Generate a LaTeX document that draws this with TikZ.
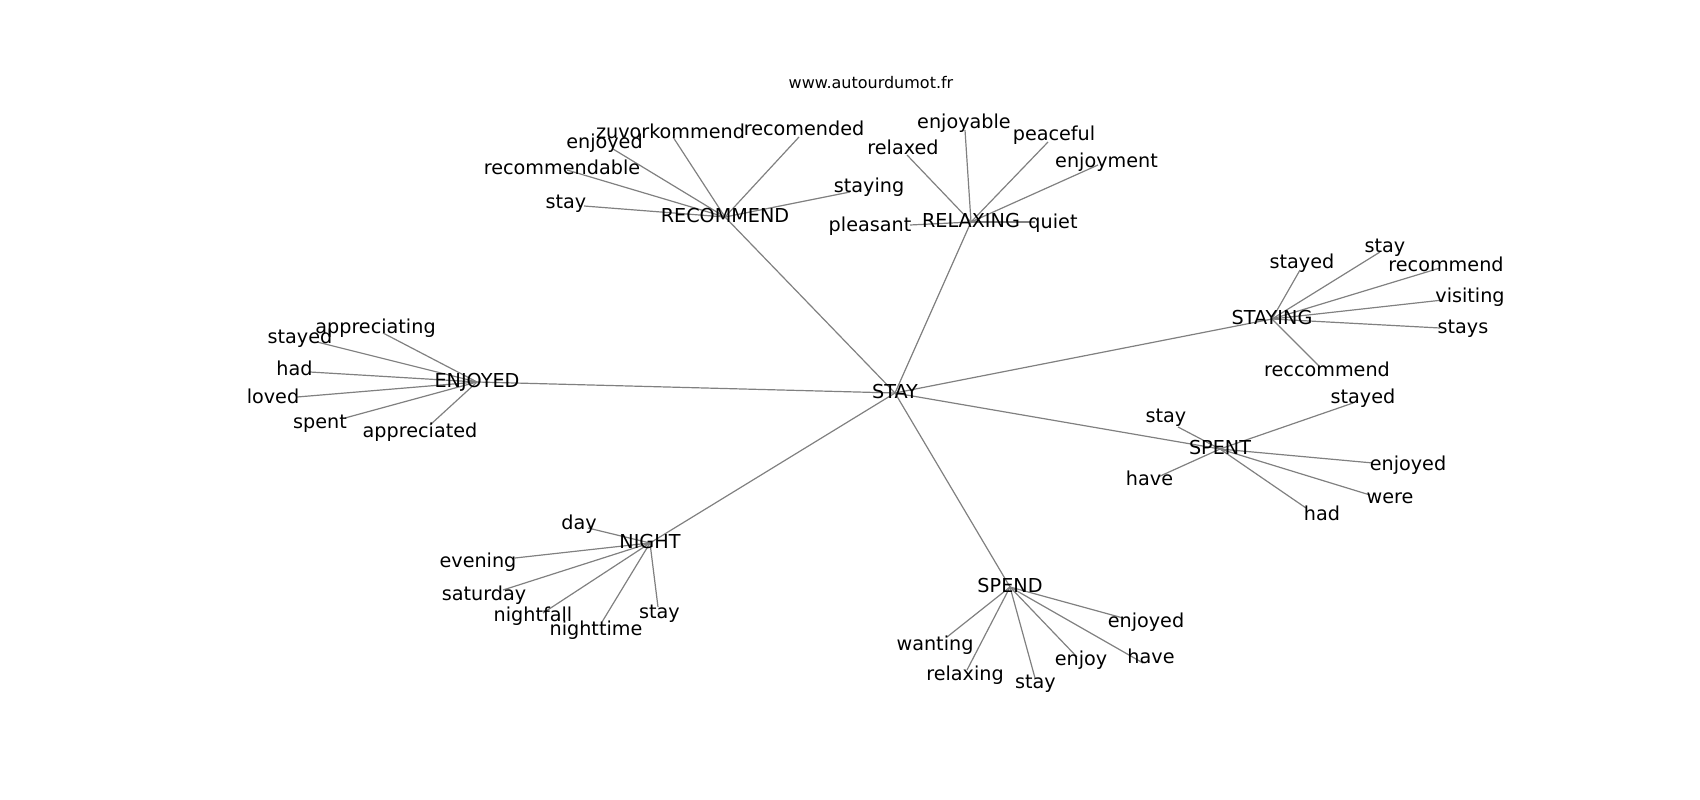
\documentclass[tikz,border=0pt]{standalone}
\usepackage{fontspec}
\setmainfont{DejaVu Sans}
\usepackage{tikz}
\tikzset{word/.style={inner sep=0pt, text height=1.15em, text depth=0em,
    font=\fontsize{19.2}{23}\selectfont},
  link/.style={draw=gray, line width=1.2pt}}

\begin{document}
\begin{tikzpicture}[x=1pt,y=-1pt]
  \useasboundingbox (0,0) rectangle (1700,800);
  \node[font=\fontsize{16}{19}\selectfont] (title) at (871,83) {www.autourdumot.fr};

  % hubs
  \coordinate (STAY) at (895,393);
  \coordinate (REC) at (725,217);
  \coordinate (REL) at (971,222);
  \coordinate (STG) at (1272,319);
  \coordinate (ENJ) at (477,382);
  \coordinate (SPT) at (1220,449);
  \coordinate (NGT) at (650,543);
  \coordinate (SPD) at (1010,587);

  % line ends of the leaves
  \coordinate (rec1) at (584,206);  \coordinate (rec2) at (567,170);
  \coordinate (rec3) at (613,149);  \coordinate (rec4) at (673,137);
  \coordinate (rec5) at (799,137);  \coordinate (rec6) at (850,192);
  \coordinate (rel1) at (910,225);  \coordinate (rel2) at (907,155);
  \coordinate (rel3) at (965,130);  \coordinate (rel4) at (1048,142);
  \coordinate (rel5) at (1098,165); \coordinate (rel6) at (1035,222);
  \coordinate (stg1) at (1300,270); \coordinate (stg2) at (1380,252);
  \coordinate (stg3) at (1440,268); \coordinate (stg4) at (1443,300);
  \coordinate (stg5) at (1440,328); \coordinate (stg6) at (1320,367);
  \coordinate (enj1) at (383,333);  \coordinate (enj2) at (317,342);
  \coordinate (enj3) at (310,372);  \coordinate (enj4) at (297,397);
  \coordinate (enj5) at (345,418);  \coordinate (enj6) at (430,425);
  \coordinate (spt1) at (1178,427); \coordinate (spt2) at (1353,403);
  \coordinate (spt3) at (1158,477); \coordinate (spt4) at (1373,463);
  \coordinate (spt5) at (1370,495); \coordinate (spt6) at (1306,508);
  \coordinate (ngt1) at (588,528);  \coordinate (ngt2) at (515,558);
  \coordinate (ngt3) at (503,590);  \coordinate (ngt4) at (543,613);
  \coordinate (ngt5) at (602,622);  \coordinate (ngt6) at (658,607);
  \coordinate (spd1) at (947,637);  \coordinate (spd2) at (967,670);
  \coordinate (spd3) at (1035,678); \coordinate (spd4) at (1077,657);
  \coordinate (spd5) at (1123,618); \coordinate (spd6) at (1143,663);

  \path[link]
    (STAY) edge (REC) edge (REL) edge (STG) edge (ENJ)
           edge (SPT) edge (NGT) edge (SPD)
    (REC) edge (rec1) edge (rec2) edge (rec3) edge (rec4) edge (rec5) edge (rec6)
    (REL) edge (rel1) edge (rel2) edge (rel3) edge (rel4) edge (rel5) edge (rel6)
    (STG) edge (stg1) edge (stg2) edge (stg3) edge (stg4) edge (stg5) edge (stg6)
    (ENJ) edge (enj1) edge (enj2) edge (enj3) edge (enj4) edge (enj5) edge (enj6)
    (SPT) edge (spt1) edge (spt2) edge (spt3) edge (spt4) edge (spt5) edge (spt6)
    (NGT) edge (ngt1) edge (ngt2) edge (ngt3) edge (ngt4) edge (ngt5) edge (ngt6)
    (SPD) edge (spd1) edge (spd2) edge (spd3) edge (spd4) edge (spd5) edge (spd6);

  % labels
  \node[word] (STAY-l) at (STAY) {STAY};
  \node[word] (REC-l) at (REC) {RECOMMEND};
  \node[word] (REL-l) at (REL) {RELAXING};
  \node[word] (STG-l) at (STG) {STAYING};
  \node[word] (ENJ-l) at (ENJ) {ENJOYED};
  \node[word] (SPT-l) at (SPT) {SPENT};
  \node[word] (NGT-l) at (NGT) {NIGHT};
  \node[word] (SPD-l) at (SPD) {SPEND};

  \node[word] (rec1-l) at (566,203) {stay};
  \node[word] (rec2-l) at (562,169) {recommendable};
  \node[word] (rec3-l) at (604.5,143) {enjoyed};
  \node[word] (rec4-l) at (670.5,133) {zuvorkommend};
  \node[word] (rec5-l) at (804,130) {recomended};
  \node[word] (rec6-l) at (869,187) {staying};

  \node[word] (rel1-l) at (870,226) {pleasant};
  \node[word] (rel2-l) at (903,149) {relaxed};
  \node[word] (rel3-l) at (964,123) {enjoyable};
  \node[word] (rel4-l) at (1054,135) {peaceful};
  \node[word] (rel5-l) at (1106.5,162) {enjoyment};
  \node[word] (rel6-l) at (1053,223) {quiet};

  \node[word] (stg1-l) at (1302,263) {stayed};
  \node[word] (stg2-l) at (1385,247) {stay};
  \node[word] (stg3-l) at (1446,266) {recommend};
  \node[word] (stg4-l) at (1470,297) {visiting};
  \node[word] (stg5-l) at (1463,328) {stays};
  \node[word] (stg6-l) at (1327,371) {reccommend};

  \node[word] (enj1-l) at (375.5,328) {appreciating};
  \node[word] (enj2-l) at (300,338) {stayed};
  \node[word] (enj3-l) at (294.5,370) {had};
  \node[word] (enj4-l) at (273,398) {loved};
  \node[word] (enj5-l) at (320,423) {spent};
  \node[word] (enj6-l) at (420,432) {appreciated};

  \node[word] (spt1-l) at (1166,417) {stay};
  \node[word] (spt2-l) at (1363,398) {stayed};
  \node[word] (spt3-l) at (1149.5,480) {have};
  \node[word] (spt4-l) at (1408,465) {enjoyed};
  \node[word] (spt5-l) at (1390,498) {were};
  \node[word] (spt6-l) at (1322,515) {had};

  \node[word] (ngt1-l) at (579,524) {day};
  \node[word] (ngt2-l) at (478,562) {evening};
  \node[word] (ngt3-l) at (484,595) {saturday};
  \node[word] (ngt4-l) at (533,616) {nightfall};
  \node[word] (ngt5-l) at (596,630) {nighttime};
  \node[word] (ngt6-l) at (659.5,613) {stay};

  \node[word] (spd1-l) at (935,645) {wanting};
  \node[word] (spd2-l) at (965,675) {relaxing};
  \node[word] (spd3-l) at (1035.5,683) {stay};
  \node[word] (spd4-l) at (1081,660) {enjoy};
  \node[word] (spd5-l) at (1146,622) {enjoyed};
  \node[word] (spd6-l) at (1151,658) {have};
\end{tikzpicture}
\end{document}
